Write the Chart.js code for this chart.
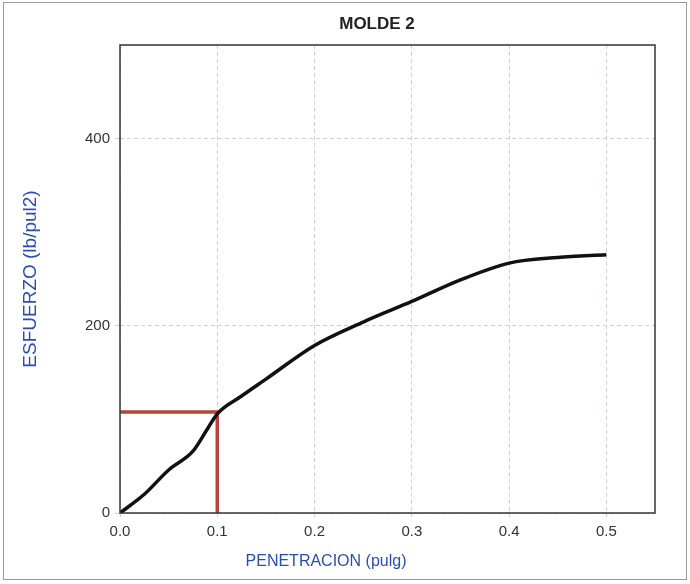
<!DOCTYPE html>
<html>
<head>
<meta charset="utf-8">
<script src="https://cdn.jsdelivr.net/npm/chart.js@4.4.1/dist/chart.umd.min.js"></script>
<style>
  body { margin: 0; background: #fff; }
  #wrap { width: 690px; height: 584px; }
</style>
</head>
<body>
<div id="wrap"><canvas id="chartMolde"></canvas></div>
<script>
// Penetration (pulg) and stress (lb/pul2)
var penetracion = [0, 0.025, 0.05, 0.075, 0.09, 0.1, 0.125, 0.15, 0.2, 0.25, 0.3, 0.35, 0.4, 0.45, 0.5];
var esfuerzo = [0, 20, 46, 66, 90, 106, 125, 143, 179, 204, 226, 249, 267, 273, 276];

// Red marker at 0.1 pulg
var marcaX = [0, 0.1, 0.1];
var marcaY = [108, 108, 0];

var xTicks = [0, 0.1, 0.2, 0.3, 0.4, 0.5];
var yTicks = [0, 200, 400];

function toPoints(xs, ys) {
    var pts = [];
    for (var i = 0; i < xs.length; i++) pts.push({ x: xs[i], y: ys[i] });
    return pts;
}

var fontFam = '"Liberation Sans", Arial, sans-serif';

// Draws the frame, the plot box, the title and the x-axis title
var extras = {
    id: 'extras',
    beforeDraw: function(chart) {
        var ctx = chart.ctx;
        ctx.save();
        ctx.fillStyle = '#fff';
        ctx.fillRect(0, 0, chart.width, chart.height);
        ctx.strokeStyle = '#9a9a9a';
        ctx.lineWidth = 1;
        ctx.strokeRect(3.5, 2.5, 683, 577);
        ctx.restore();
    },
    afterDraw: function(chart) {
        var ctx = chart.ctx;
        var a = chart.chartArea;
        ctx.save();
        ctx.strokeStyle = '#333';
        ctx.lineWidth = 1.5;
        ctx.strokeRect(a.left, a.top, a.right - a.left, a.bottom - a.top);
        ctx.textAlign = 'center';
        ctx.textBaseline = 'middle';
        ctx.fillStyle = '#222';
        ctx.font = 'bold 17px ' + fontFam;
        ctx.fillText('MOLDE 2', 377, 24);
        ctx.fillStyle = '#2a4db5';
        ctx.font = '16px ' + fontFam;
        ctx.fillText('PENETRACION (pulg)', 326, 562);
        ctx.restore();
    }
};

var ctx = document.querySelector('#chartMolde').getContext('2d');
var chart = new Chart(ctx, {
    type: 'scatter',
    data: {
        datasets: [{
            data: toPoints(penetracion, esfuerzo),
            showLine: true,
            borderColor: '#111',
            borderWidth: 3.5,
            pointRadius: 0,
            cubicInterpolationMode: 'monotone',
            order: 1
        }, {
            data: toPoints(marcaX, marcaY),
            showLine: true,
            borderColor: '#b5453b',
            borderWidth: 3.5,
            pointRadius: 0,
            tension: 0,
            order: 2
        }]
    },
    options: {
        responsive: true,
        maintainAspectRatio: false,
        animation: false,
        layout: { padding: { left: 0, right: 35, top: 45, bottom: 0 } },
        plugins: {
            legend: { display: false },
            tooltip: { enabled: false },
            title: { display: false }
        },
        scales: {
            x: {
                type: 'linear',
                min: 0,
                max: 0.55,
                afterBuildTicks: function(scale) {
                    scale.ticks = xTicks.map(function(v) { return { value: v }; });
                },
                afterFit: function(scale) { scale.height = 71; },
                ticks: {
                    color: '#333',
                    font: { family: fontFam, size: 15 },
                    padding: 6,
                    callback: function(v) { return v.toFixed(1); }
                },
                grid: { color: '#c9cfdc', tickLength: 4, lineWidth: 1 },
                border: { display: false, dash: [4, 3] }
            },
            y: {
                type: 'linear',
                min: 0,
                max: 500,
                afterBuildTicks: function(scale) {
                    scale.ticks = yTicks.map(function(v) { return { value: v }; });
                },
                afterFit: function(scale) { scale.width = 120; },
                ticks: {
                    color: '#333',
                    font: { family: fontFam, size: 15 },
                    padding: 5
                },
                grid: { color: '#c9cfdc', tickLength: 5, lineWidth: 1 },
                border: { display: false, dash: [4, 3] },
                title: {
                    display: true,
                    text: 'ESFUERZO (lb/pul2)',
                    color: '#2a4db5',
                    font: { family: fontFam, size: 19 },
                    padding: { top: 19, bottom: 0 }
                }
            }
        }
    },
    plugins: [extras]
});
</script>
</body>
</html>
